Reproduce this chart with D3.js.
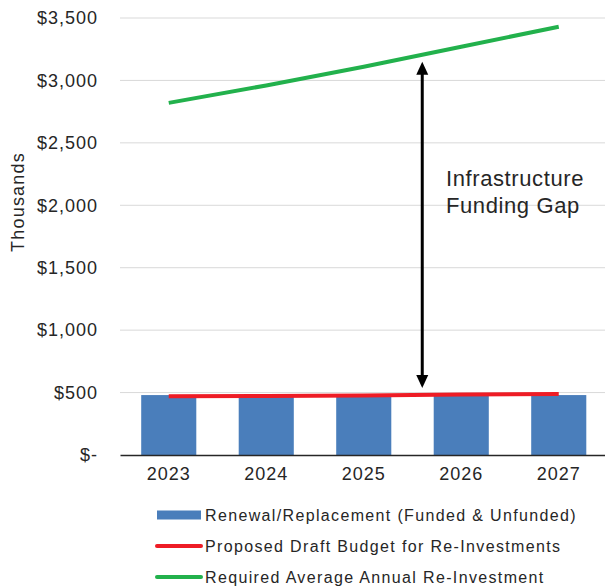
<!DOCTYPE html>
<html>
<head>
<meta charset="utf-8">
<script src="https://cdn.jsdelivr.net/npm/d3@7"></script>
<style>
  html, body { margin: 0; padding: 0; background: #fff; }
  svg { display: block; }
  text { font-family: "Liberation Sans", Arial, sans-serif; fill: #262626; }
</style>
</head>
<body>
<svg id="chart" width="605" height="587"></svg>
<script>
// Capital re-investment outlook, in thousands of dollars
const years = ["2023", "2024", "2025", "2026", "2027"];
const renewalReplacement = [480, 480, 480, 480, 480];
const proposedBudget = [470, 472, 476, 485, 488];
const requiredAnnual = [2820, 2960, 3110, 3270, 3430];
const yTicks = [0, 500, 1000, 1500, 2000, 2500, 3000, 3500];
const gapArrow = { position: 2025.6, from: 537, to: 3150 };
const gapLabel = ["Infrastructure", "Funding Gap"];
const legendItems = [
  { label: "Renewal/Replacement (Funded & Unfunded)", color: "#4a7ebb", kind: "bar" },
  { label: "Proposed Draft Budget for Re-Investments", color: "#ee1c25", kind: "line" },
  { label: "Required Average Annual Re-Investment", color: "#22b14c", kind: "line" }
];

const svg = d3.select("#chart");
const plot = { left: 120, right: 607.5, top: 18, bottom: 455 };

const x = d3.scaleBand().domain(years).range([plot.left, plot.right]).paddingInner(0.435).paddingOuter(0.2175);
const y = d3.scaleLinear().domain([0, 3500]).range([plot.bottom, plot.top]);
const xCenter = d => x(d) + x.bandwidth() / 2;
// continuous position for points that sit between categories
const xYear = v => xCenter(years[0]) + (v - +years[0]) * x.step();

const fmt = v => v === 0 ? "$-" : "$" + d3.format(",")(v);

// gridlines
svg.append("g")
  .selectAll("line")
  .data(yTicks.filter(t => t > 0))
  .join("line")
  .attr("x1", plot.left).attr("x2", plot.right)
  .attr("y1", d => y(d)).attr("y2", d => y(d))
  .attr("stroke", "#d9d9d9").attr("stroke-width", 1);

// y axis labels
const yAxis = svg.append("g")
  .attr("transform", `translate(${plot.left},0)`)
  .call(d3.axisLeft(y).tickValues(yTicks).tickFormat(fmt).tickSize(0).tickPadding(22));
yAxis.select(".domain").remove();
yAxis.selectAll("text")
  .style("font-family", "'Liberation Sans', Arial, sans-serif")
  .style("font-size", "18px").style("letter-spacing", "1px")
  .attr("fill", "#262626");

// axis title
svg.append("text")
  .attr("transform", "translate(24,202) rotate(-90)")
  .attr("text-anchor", "middle")
  .style("font-size", "18px").style("letter-spacing", "1.2px")
  .text("Thousands");

// bars
svg.append("g")
  .selectAll("rect")
  .data(years.map((yr, i) => ({ yr, v: renewalReplacement[i] })))
  .join("rect")
  .attr("x", d => x(d.yr))
  .attr("width", x.bandwidth())
  .attr("y", d => y(d.v))
  .attr("height", d => y(0) - y(d.v))
  .attr("fill", "#4a7ebb");

// x axis
const xAxis = svg.append("g")
  .attr("transform", `translate(0,${plot.bottom})`)
  .call(d3.axisBottom(x).tickSize(0).tickPadding(12));
xAxis.select(".domain").attr("stroke", "#262626").attr("stroke-width", 1.3);
xAxis.selectAll("text")
  .style("font-family", "'Liberation Sans', Arial, sans-serif")
  .style("font-size", "18px").style("letter-spacing", "1px")
  .attr("fill", "#262626");

// lines
const line = d3.line().x((d, i) => xCenter(years[i])).y(d => y(d));
svg.append("path").datum(proposedBudget)
  .attr("d", line).attr("fill", "none")
  .attr("stroke", "#ee1c25").attr("stroke-width", 4);
svg.append("path").datum(requiredAnnual)
  .attr("d", line).attr("fill", "none")
  .attr("stroke", "#22b14c").attr("stroke-width", 4);

// funding gap arrow
const ax = xYear(gapArrow.position);
const yTop = y(gapArrow.to), yBot = y(gapArrow.from);
const head = 13, half = 6;
svg.append("line")
  .attr("x1", ax).attr("x2", ax)
  .attr("y1", yTop + head - 1).attr("y2", yBot - head + 1)
  .attr("stroke", "#000").attr("stroke-width", 3);
svg.append("path")
  .attr("d", `M${ax},${yTop} L${ax - half},${yTop + head} L${ax + half},${yTop + head} Z`)
  .attr("fill", "#000");
svg.append("path")
  .attr("d", `M${ax},${yBot} L${ax - half},${yBot - head} L${ax + half},${yBot - head} Z`)
  .attr("fill", "#000");

svg.append("g")
  .selectAll("text")
  .data(gapLabel)
  .join("text")
  .attr("x", 446)
  .attr("y", (d, i) => 186 + i * 27)
  .style("font-size", "22px").style("letter-spacing", "0.6px")
  .attr("fill", "#1a1a1a")
  .text(d => d);

// legend
const lg = svg.append("g")
  .selectAll("g")
  .data(legendItems)
  .join("g")
  .attr("transform", (d, i) => `translate(157,${515 + i * 31})`);
lg.each(function (d) {
  const g = d3.select(this);
  if (d.kind === "bar") {
    g.append("rect").attr("x", 0).attr("y", -4.5).attr("width", 44).attr("height", 9).attr("fill", d.color);
  } else {
    g.append("line").attr("x1", 0).attr("x2", 44).attr("y1", 0).attr("y2", 0)
      .attr("stroke", d.color).attr("stroke-width", 4).attr("stroke-linecap", "round");
  }
});
lg.append("text")
  .attr("x", 48).attr("y", 5.5)
  .style("font-size", "16px")
  .style("letter-spacing", "1.35px")
  .attr("fill", "#1a1a1a")
  .text(d => d.label);
</script>
</body>
</html>
